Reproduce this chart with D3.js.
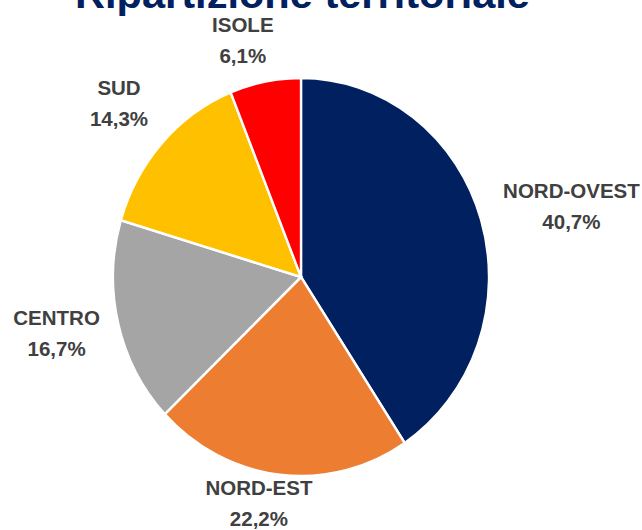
<!DOCTYPE html>
<html>
<head>
<meta charset="utf-8">
<script src="https://cdn.jsdelivr.net/npm/d3@7"></script>
<style>
  body { margin: 0; background: #fff; }
  text { font-family: "Liberation Sans", Arial, sans-serif; font-weight: bold; }
</style>
</head>
<body>
<div id="chart"></div>
<script>
const regions = ['NORD-OVEST', 'NORD-EST', 'CENTRO', 'SUD', 'ISOLE'];
const shares  = [40.7, 22.2, 16.7, 14.3, 6.1];
const colors  = ['#002060', '#ED7D31', '#A5A5A5', '#FFC000', '#FF0000'];

const W = 642, H = 530;
const cx = 301, cy = 277;
const rx = 188, ry = 199;

// small hand tweaks so labels sit where Excel's "best fit" put them
const labelNudge = [[4, 9], [-15, -10], [2, -3], [-1, -9], [-13, -4]];

const svg = d3.select('#chart')
  .append('svg')
    .attr('width', W)
    .attr('height', H);

// title, partly cut off by the top edge
svg.append('text')
  .attr('x', 302.5)
  .attr('y', 8)
  .attr('text-anchor', 'middle')
  .attr('font-size', 41)
  .attr('fill', '#002060')
  .attr('textLength', 455)
  .attr('lengthAdjust', 'spacingAndGlyphs')
  .text('Ripartizione territoriale');

const data = regions.map((r, i) => ({region: r, value: shares[i], color: colors[i]}));

const pie = d3.pie()
  .sort(null)
  .value(d => d.value);

const arcs = pie(data);

const arc = d3.arc()
  .innerRadius(0)
  .outerRadius(ry);

// pie is slightly taller than wide in the picture
const g = svg.append('g')
  .attr('transform', `translate(${cx},${cy}) scale(${rx / ry},1)`);

g.selectAll('path')
  .data(arcs)
  .join('path')
    .attr('d', arc)
    .attr('fill', d => d.data.color)
    .attr('stroke', '#fff')
    .attr('stroke-width', 2.5);

// labels outside the pie, pushed out by their own box size
const gap = 205;
const labels = svg.append('g');

arcs.forEach((d, i) => {
  const a = (d.startAngle + d.endAngle) / 2;
  const t = labels.append('text')
    .attr('text-anchor', 'middle')
    .attr('font-size', 20.5)
    .attr('fill', '#404040');
  t.append('tspan')
    .attr('x', 0)
    .attr('dy', 0)
    .text(d.data.region);
  t.append('tspan')
    .attr('x', 0)
    .attr('dy', 31)
    .text(d3.format('.1f')(d.data.value).replace('.', ',') + '%');

  const b = t.node().getBBox();
  const sx = Math.sin(a), sy = -Math.cos(a);
  const off = Math.abs(sx) * b.width / 2 + Math.abs(sy) * b.height / 2;
  const px = cx + (gap + off) * sx + labelNudge[i][0];
  const py = cy + (gap + off) * sy + labelNudge[i][1];
  // shift so that the box centre lands on (px, py)
  const bx = b.x + b.width / 2, by = b.y + b.height / 2;
  t.attr('transform', `translate(${px - bx},${py - by})`);
});
</script>
</body>
</html>
